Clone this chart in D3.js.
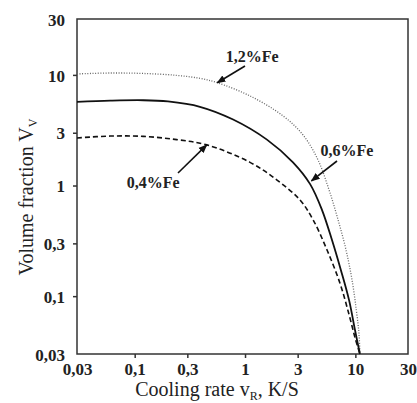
<!DOCTYPE html>
<html>
<head>
<meta charset="utf-8">
<script src="https://cdn.jsdelivr.net/npm/d3@7"></script>
<style>
  html, body { margin: 0; padding: 0; background: #fff; }
  svg { display: block; }
  text { font-family: "Liberation Serif", "Times New Roman", serif; fill: #222; }
</style>
</head>
<body>
<svg id="chart" width="417" height="403"></svg>
<script>
// ---- data ----
const xTicks = [0.03, 0.1, 0.3, 1, 3, 10, 30];
const xTickLabels = ["0,03", "0,1", "0,3", "1", "3", "10", "30"];
const yTicks = [0.03, 0.1, 0.3, 1, 3, 10, 30];
const yTickLabels = ["0,03", "0,1", "0,3", "1", "3", "10", "30"];

const fe12X = [0.03, 0.06, 0.12, 0.24, 0.39, 0.56, 1.11, 2.21, 3.36, 4.59, 5.78, 6.97, 8.24, 9.33, 10.2, 10.8, 11.0];
const fe12Y = [10.2, 10.4, 10.3, 9.9, 9.3, 8.5, 6.45, 4.26, 2.86, 1.70, 0.91, 0.49, 0.26, 0.14, 0.075, 0.045, 0.03];

const fe06X = [0.03, 0.06, 0.12, 0.2, 0.39, 0.78, 1.58, 2.72, 3.89, 4.99, 6.15, 7.42, 8.77, 9.94, 11.0];
const fe06Y = [5.7, 5.85, 5.9, 5.75, 5.15, 3.95, 2.6, 1.62, 1.03, 0.60, 0.32, 0.17, 0.092, 0.049, 0.03];

const fe04X = [0.03, 0.06, 0.12, 0.24, 0.45, 1.11, 1.95, 3.15, 4.14, 5.55, 7.27, 8.77, 9.94, 11.0];
const fe04Y = [2.69, 2.8, 2.78, 2.6, 2.33, 1.62, 1.12, 0.74, 0.49, 0.26, 0.13, 0.068, 0.042, 0.03];

const seriesNames = ["1,2%Fe", "0,6%Fe", "0,4%Fe"];
const arrowTipX = [0.56, 4.0, 0.45];
const arrowTipY = [8.5, 1.1, 2.33];
const labelX = [1.16, 8.4, 0.147];
const labelY = [13.1, 1.85, 0.95];

// ---- layout ----
const svg = d3.select("#chart");
const L = 77, R = 408, T = 19, B = 354;
const x = d3.scaleLog().domain([0.03, 30]).range([L, R]);
const y = d3.scaleLog().domain([0.03, 32]).range([B, T]);

svg.append("rect").attr("x", L).attr("y", T).attr("width", R - L).attr("height", B - T)
  .attr("fill", "none").attr("stroke", "#333").attr("stroke-width", 1.5);

const xAxis = svg.append("g").attr("transform", `translate(0,${B})`)
  .call(d3.axisBottom(x).tickValues(xTicks).tickSize(4).tickFormat((d, i) => xTickLabels[i]));
const yAxis = svg.append("g").attr("transform", `translate(${L},0)`)
  .call(d3.axisLeft(y).tickValues(yTicks).tickSize(4).tickFormat((d, i) => yTickLabels[i]));
[xAxis, yAxis].forEach(g => {
  g.select(".domain").remove();
  g.selectAll(".tick line").attr("stroke", "#333").attr("stroke-width", 1.5);
  g.selectAll(".tick text").attr("font-family", "Liberation Serif").attr("font-weight", "bold")
    .attr("font-size", 17).attr("fill", "#222");
});
xAxis.selectAll(".tick line").filter(d => d === 0.03 || d === 30).remove();
yAxis.selectAll(".tick line").filter(d => d === 0.03 || d === 30).remove();
xAxis.selectAll(".tick text").attr("y", 9).attr("dy", "0.71em");
yAxis.selectAll(".tick text").attr("x", -12).attr("dy", "0.36em");
yAxis.selectAll(".tick text").filter(d => d === 30).attr("y", -3);

const line = d3.line().x(d => x(d[0])).y(d => y(d[1])).curve(d3.curveCatmullRom.alpha(0.5));
const series = [
  { xs: fe12X, ys: fe12Y, stroke: "#666", width: 1.3, dash: "1,1.6" },
  { xs: fe06X, ys: fe06Y, stroke: "#111", width: 1.8, dash: null },
  { xs: fe04X, ys: fe04Y, stroke: "#111", width: 1.6, dash: "5,3" }
];
series.forEach(s => {
  const pts = s.xs.map((v, i) => [v, s.ys[i]]);
  svg.append("path").datum(pts).attr("d", line).attr("fill", "none")
    .attr("stroke", s.stroke).attr("stroke-width", s.width)
    .attr("stroke-dasharray", s.dash);
});

svg.append("defs").append("marker").attr("id", "arr").attr("viewBox", "0 0 10 10")
  .attr("refX", 9).attr("refY", 5).attr("markerWidth", 9).attr("markerHeight", 9)
  .attr("markerUnits", "userSpaceOnUse").attr("orient", "auto")
  .append("path").attr("d", "M0,1 L10,5 L0,9 Z").attr("fill", "#111");

const arrowStart = [[245, 66], [337, 161], [178, 173]];
seriesNames.forEach((name, i) => {
  svg.append("text").attr("x", x(labelX[i])).attr("y", y(labelY[i]))
    .attr("text-anchor", "middle").attr("font-weight", "bold").attr("font-size", 16)
    .text(name);
  svg.append("line").attr("x1", arrowStart[i][0]).attr("y1", arrowStart[i][1])
    .attr("x2", x(arrowTipX[i])).attr("y2", y(arrowTipY[i]))
    .attr("stroke", "#111").attr("stroke-width", 1.6).attr("marker-end", "url(#arr)");
});

const xt = svg.append("text").attr("x", 217).attr("y", 396).attr("text-anchor", "middle")
  .attr("font-size", 20);
xt.append("tspan").text("Cooling rate v");
xt.append("tspan").attr("font-size", 12).attr("dy", 4).text("R");
xt.append("tspan").attr("dy", -4).text(", K/S");

const yt = svg.append("text").attr("transform", "translate(33,197) rotate(-90)")
  .attr("text-anchor", "middle").attr("font-size", 20);
yt.append("tspan").text("Volume fraction V");
yt.append("tspan").attr("font-size", 12).attr("dy", 4).text("V");
</script>
</body>
</html>
